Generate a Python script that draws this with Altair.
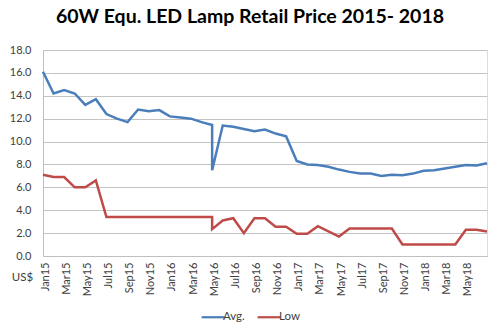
import altair as alt
import pandas as pd

month_names = ["Jan15","Feb15","Mar15","Apr15","May15","Jun15","Jul15","Aug15","Sep15","Oct15","Nov15","Dec15",
               "Jan16","Feb16","Mar16","Apr16","May16","Jun16","Jul16","Aug16","Sep16","Oct16","Nov16","Dec16",
               "Jan17","Feb17","Mar17","Apr17","May17","Jun17","Jul17","Aug17","Sep17","Oct17","Nov17","Dec17",
               "Jan18","Feb18","Mar18","Apr18","May18","Jun18","Jul18"]

# observation months (May16 has two observations)
obs_months = ["Jan15","Feb15","Mar15","Apr15","May15","Jun15","Jul15","Aug15","Sep15","Oct15","Nov15","Dec15",
              "Jan16","Feb16","Mar16","Apr16","May16","May16","Jun16","Jul16","Aug16","Sep16","Oct16","Nov16","Dec16",
              "Jan17","Feb17","Mar17","Apr17","May17","Jun17","Jul17","Aug17","Sep17","Oct17","Nov17","Dec17",
              "Jan18","Feb18","Mar18","Apr18","May18","Jun18","Jul18"]

avg = [16.1, 14.2, 14.5, 14.2, 13.2, 13.7, 12.4, 12.0, 11.7, 12.8, 12.65, 12.75,
       12.2, 12.1, 12.0, 11.7, 11.45, 7.5, 11.4, 11.3, 11.1, 10.9, 11.05, 10.7, 10.45,
       8.3, 8.0, 7.95, 7.8, 7.55, 7.35, 7.2, 7.2, 7.0, 7.1, 7.05, 7.2,
       7.45, 7.5, 7.65, 7.8, 7.95, 7.9, 8.1]

low = [7.1, 6.9, 6.9, 6.0, 6.0, 6.6, 3.4, 3.4, 3.4, 3.4, 3.4, 3.4,
       3.4, 3.4, 3.4, 3.4, 3.4, 2.35, 3.1, 3.3, 2.0, 3.3, 3.3, 2.55, 2.55,
       1.95, 1.95, 2.6, 2.15, 1.7, 2.4, 2.4, 2.4, 2.4, 2.4, 1.0, 1.0,
       1.0, 1.0, 1.0, 1.0, 2.3, 2.3, 2.15]

series_names = ["Avg.", "Low"]
series_colors = ["#4A7EBB", "#BE4B48"]
tick_labels = ["Jan15","Mar15","May15","Jul15","Sep15","Nov15","Jan16","Mar16","May16","Jul16","Sep16",
               "Nov16","Jan17","Mar17","May17","Jul17","Sep17","Nov17","Jan18","Mar18","May18"]
y_ticks = [0, 2, 4, 6, 8, 10, 12, 14, 16, 18]

rows = []
for s, vals in zip(series_names, [avg, low]):
    for i, (m, v) in enumerate(zip(obs_months, vals)):
        rows.append({"series": s, "order": i, "month": m, "idx": month_names.index(m), "price": v})
df = pd.DataFrame(rows)

label_arr = "[" + ",".join("'%s'" % m for m in month_names) + "]"

font = "Lato"
chart = alt.Chart(df).mark_line(strokeWidth=2.5).encode(
    x=alt.X("idx:Q",
            scale=alt.Scale(domain=[0, len(month_names) - 1], nice=False, zero=False),
            axis=alt.Axis(values=[month_names.index(m) for m in tick_labels],
                          labelExpr=label_arr + "[datum.value]",
                          labelAngle=270, labelAlign="right", labelBaseline="middle",
                          labelPadding=6, labelOffset=2, ticks=False, grid=False,
                          domainColor="#bfbfbf", labelColor="#404040",
                          labelFont=font, labelFontSize=11, title=None)),
    y=alt.Y("price:Q",
            scale=alt.Scale(domain=[0, 18], nice=False),
            axis=alt.Axis(values=y_ticks, format=".1f", ticks=False, labelPadding=12,
                          gridColor="#c4c4c4", domainColor="#bfbfbf",
                          labelColor="#404040", labelFont=font, labelFontSize=11,
                          title="US$", titleAngle=0, titleX=-21, titleY=227,
                          titleAlign="center", titleBaseline="middle",
                          titleFont=font, titleFontSize=11.5, titleFontWeight="normal",
                          titleColor="#404040")),
    color=alt.Color("series:N",
                    scale=alt.Scale(domain=series_names, range=series_colors),
                    legend=alt.Legend(orient="none", legendX=157, legendY=254,
                                      direction="horizontal", title=None,
                                      symbolType="stroke", symbolSize=520,
                                      symbolStrokeWidth=2.2, labelFont=font,
                                      labelFontSize=11.5, labelColor="#404040",
                                      columnPadding=8, labelOffset={"expr": "-3"})),
    order=alt.Order("order:Q"),
).properties(
    width=444, height=206,
    title=alt.TitleParams("60W Equ. LED Lamp Retail Price 2015- 2018",
                          font=font, fontSize=19.5, fontWeight="bold", color="#000000",
                          anchor="middle", dx=-15, offset=17),
    autosize=alt.AutoSizeParams(type="none"),
    padding={"left": 43, "top": 50, "right": 13, "bottom": 78},
).configure_view(stroke=None).configure(background="white")

chart.save("out.html", embed_options={"renderer": "svg", "actions": False})
